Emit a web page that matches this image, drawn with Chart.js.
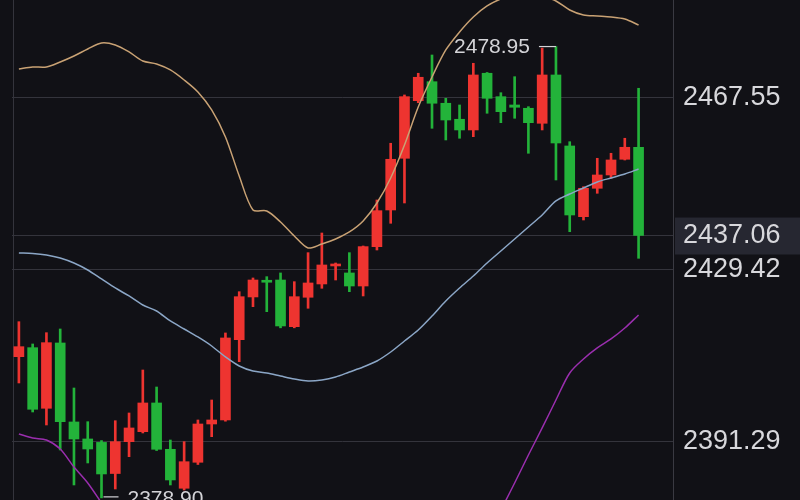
<!DOCTYPE html>
<html>
<head>
<meta charset="utf-8">
<script src="https://cdn.jsdelivr.net/npm/chart.js@4.4.1/dist/chart.umd.min.js"></script>
<style>
  html, body { margin: 0; padding: 0; background: #111116; }
  #wrap { width: 800px; height: 500px; position: relative; }
</style>
</head>
<body>
<div id="wrap"><canvas id="kline"></canvas></div>
<script>
// candle data
var opens  = [2410.20, 2412.20, 2398.76, 2413.24, 2395.73, 2391.96, 2391.20, 2384.30, 2391.36, 2393.58,
              2399.94, 2389.67, 2381.03, 2386.79, 2395.28, 2396.17, 2413.97, 2423.44, 2427.00, 2427.20,
              2416.85, 2423.37, 2426.32, 2430.31, 2428.76, 2425.87, 2434.59, 2442.72, 2454.18, 2466.95,
              2471.16, 2466.38, 2462.83, 2460.46, 2473.03, 2467.84, 2466.00, 2465.27, 2461.94, 2472.65,
              2456.91, 2441.24, 2447.53, 2450.48, 2453.96, 2456.62];
var highs  = [2417.96, 2413.02, 2415.52, 2416.34, 2403.26, 2395.79, 2391.60, 2396.01, 2397.72, 2407.25,
              2403.48, 2391.73, 2391.36, 2396.17, 2400.60, 2415.46, 2424.61, 2427.65, 2427.94, 2428.76,
              2426.83, 2433.26, 2437.62, 2430.97, 2433.26, 2434.74, 2444.94, 2457.51, 2468.22, 2473.03,
              2477.08, 2467.48, 2466.00, 2475.24, 2473.20, 2468.72, 2472.27, 2465.62, 2478.60, 2478.95,
              2457.86, 2447.89, 2454.18, 2455.29, 2458.62, 2469.70];
var lows   = [2404.37, 2397.94, 2395.06, 2389.52, 2381.76, 2386.64, 2378.90, 2380.87, 2388.03, 2393.29,
              2389.40, 2381.76, 2380.65, 2386.30, 2392.47, 2395.90, 2409.09, 2421.29, 2420.18, 2416.60,
              2416.60, 2420.93, 2425.36, 2427.20, 2424.61, 2423.66, 2433.85, 2439.77, 2444.27, 2466.50,
              2460.83, 2458.24, 2458.62, 2458.97, 2464.16, 2462.07, 2463.05, 2455.29, 2460.46, 2449.37,
              2437.91, 2440.50, 2446.42, 2449.75, 2453.80, 2432.01];
var closes = [2412.42, 2398.54, 2413.31, 2395.79, 2391.96, 2389.74, 2384.20, 2391.36, 2394.40, 2399.94,
              2389.67, 2382.87, 2386.92, 2395.28, 2396.17, 2414.35, 2423.50, 2427.20, 2426.70, 2417.01,
              2423.50, 2426.54, 2430.53, 2430.75, 2425.87, 2434.60, 2442.57, 2453.96, 2467.84, 2472.14,
              2466.38, 2462.67, 2460.46, 2472.65, 2467.48, 2464.51, 2465.49, 2462.07, 2472.65, 2457.57,
              2441.61, 2447.53, 2450.48, 2453.81, 2456.62, 2437.06];

// bands
var upperBand = [2473.98, 2474.42, 2474.42, 2475.53, 2476.86, 2478.41, 2479.74, 2479.30, 2477.75, 2475.75,
                 2475.09, 2473.76, 2471.54, 2468.88, 2464.89, 2458.91, 2450.26, 2442.72, 2442.50, 2440.06,
                 2436.96, 2434.30, 2435.19, 2436.29, 2437.85, 2440.28, 2444.27, 2449.82, 2457.13, 2465.56,
                 2472.21, 2478.19, 2482.18, 2485.51, 2487.95, 2489.50, 2490.38, 2490.83, 2490.16, 2489.05,
                 2487.06, 2485.95, 2485.73, 2485.51, 2485.06, 2483.73];
var midBand   = [2433.19, 2433.08, 2432.75, 2432.08, 2430.97, 2429.42, 2427.43, 2425.43, 2423.66, 2421.66,
                 2420.33, 2418.12, 2416.34, 2414.57, 2412.57, 2410.14, 2408.14, 2407.03, 2406.59, 2405.92,
                 2405.26, 2404.82, 2405.04, 2405.70, 2406.81, 2407.92, 2409.25, 2411.24, 2413.68, 2416.12,
                 2419.22, 2422.55, 2425.43, 2428.09, 2430.97, 2433.63, 2436.29, 2438.95, 2441.61, 2444.72,
                 2446.27, 2447.60, 2448.93, 2449.82, 2450.70, 2451.81];
var lowerBand = [2393.07, 2392.18, 2391.74, 2389.74, 2385.75, 2382.20, 2377.77, 2373.34, null, null,
                 null, null, null, null, null, null, null, null, null, null,
                 null, null, null, null, null, null, null, null, null, null,
                 null, null, null, null, 2370.68, 2376.22, 2382.20, 2388.41, 2394.40, 2400.60,
                 2406.59, 2409.69, 2412.13, 2414.13, 2416.56, 2419.45];

var priceTicks = [2391.29, 2429.42, 2437.06, 2467.55];
var lastPrice = 2437.06;
var highMark = { index: 39, value: 2478.95 };
var lowMark = { index: 6, value: 2378.90 };
var slotCount = 48; // two empty slots on the right

var UP = '#ee3430', DOWN = '#23b33a';

var labels = [];
for (var i = 0; i < slotCount; i++) labels.push(String(i));

var wicks = [], bodies = [], colors = [];
for (var i = 0; i < opens.length; i++) {
    wicks.push([lows[i], highs[i]]);
    bodies.push([opens[i], closes[i]]);
    colors.push(closes[i] >= opens[i] ? UP : DOWN);
}

var decorPlugin = {
    id: 'decor',
    beforeDraw: function(chart) {
        var ctx = chart.ctx, area = chart.chartArea, y = chart.scales.y;
        ctx.save();
        ctx.fillStyle = '#111116';
        ctx.fillRect(0, 0, chart.width, chart.height);
        // last price box on the axis
        var py = y.getPixelForValue(lastPrice);
        ctx.fillStyle = '#262731';
        ctx.fillRect(area.right + 2, py - 18, chart.width - area.right, 37);
        // left frame line
        ctx.strokeStyle = '#34343c';
        ctx.lineWidth = 1;
        ctx.beginPath();
        ctx.moveTo(area.left + 1.5, 0);
        ctx.lineTo(area.left + 1.5, chart.height);
        ctx.stroke();
        ctx.restore();
    },
    afterDatasetsDraw: function(chart) {
        var ctx = chart.ctx, x = chart.scales.x, y = chart.scales.y;
        ctx.save();
        ctx.font = '21px "Liberation Sans", Arial, sans-serif';
        ctx.fillStyle = '#d4d4d8';
        ctx.strokeStyle = '#d4d4d8';
        ctx.lineWidth = 1.2;
        ctx.textBaseline = 'middle';

        var hx = x.getPixelForValue(highMark.index), hy = y.getPixelForValue(highMark.value);
        ctx.beginPath();
        ctx.moveTo(hx - 17, hy);
        ctx.lineTo(hx, hy);
        ctx.stroke();
        ctx.textAlign = 'right';
        ctx.fillText(highMark.value.toFixed(2), hx - 26, hy + 1);

        var lx = x.getPixelForValue(lowMark.index), ly = y.getPixelForValue(lowMark.value);
        ctx.beginPath();
        ctx.moveTo(lx + 2, ly - 1);
        ctx.lineTo(lx + 17, ly - 1);
        ctx.stroke();
        ctx.textAlign = 'left';
        ctx.fillText(lowMark.value.toFixed(2), lx + 26, ly + 1);
        ctx.restore();
    }
};

var ctx = document.getElementById('kline').getContext('2d');
var chart = new Chart(ctx, {
    type: 'bar',
    data: {
        labels: labels,
        datasets: [
            { type: 'line', label: 'UP', data: upperBand, borderColor: '#c9a274', borderWidth: 1.5,
              pointRadius: 0, tension: 0.3, order: 0 },
            { type: 'line', label: 'MID', data: midBand, borderColor: '#8ba6c6', borderWidth: 1.5,
              pointRadius: 0, tension: 0.3, order: 0 },
            { type: 'line', label: 'DN', data: lowerBand, borderColor: '#9a2eae', borderWidth: 1.5,
              pointRadius: 0, tension: 0.3, spanGaps: false, order: 0 },
            { label: 'wick', data: wicks, backgroundColor: colors, barThickness: 2,
              grouped: false, order: 2 },
            { label: 'body', data: bodies, backgroundColor: colors, barThickness: 10,
              minBarLength: 2, grouped: false, order: 1 }
        ]
    },
    options: {
        responsive: true,
        maintainAspectRatio: false,
        animation: false,
        layout: { padding: { left: 12, right: 0, top: 0, bottom: 0 } },
        plugins: { legend: { display: false }, tooltip: { enabled: false } },
        scales: {
            x: {
                type: 'category',
                display: false,
                offset: true
            },
            y: {
                position: 'right',
                min: 2378.43,
                max: 2489.27,
                afterBuildTicks: function(scale) {
                    scale.ticks = priceTicks.map(function(v) { return { value: v }; });
                },
                afterFit: function(scale) {
                    scale.width = 127;
                    scale.paddingTop = 0;
                    scale.paddingBottom = 0;
                },
                grid: { color: '#34343c', lineWidth: 1, drawTicks: false },
                border: { display: true, color: '#3a3a42', width: 1 },
                ticks: {
                    padding: 10,
                    color: '#d8d8dc',
                    font: { family: '"Liberation Sans", Arial, sans-serif', size: 27 },
                    callback: function(v) { return Number(v).toFixed(2); }
                }
            }
        }
    },
    plugins: [decorPlugin]
});
</script>
</body>
</html>
